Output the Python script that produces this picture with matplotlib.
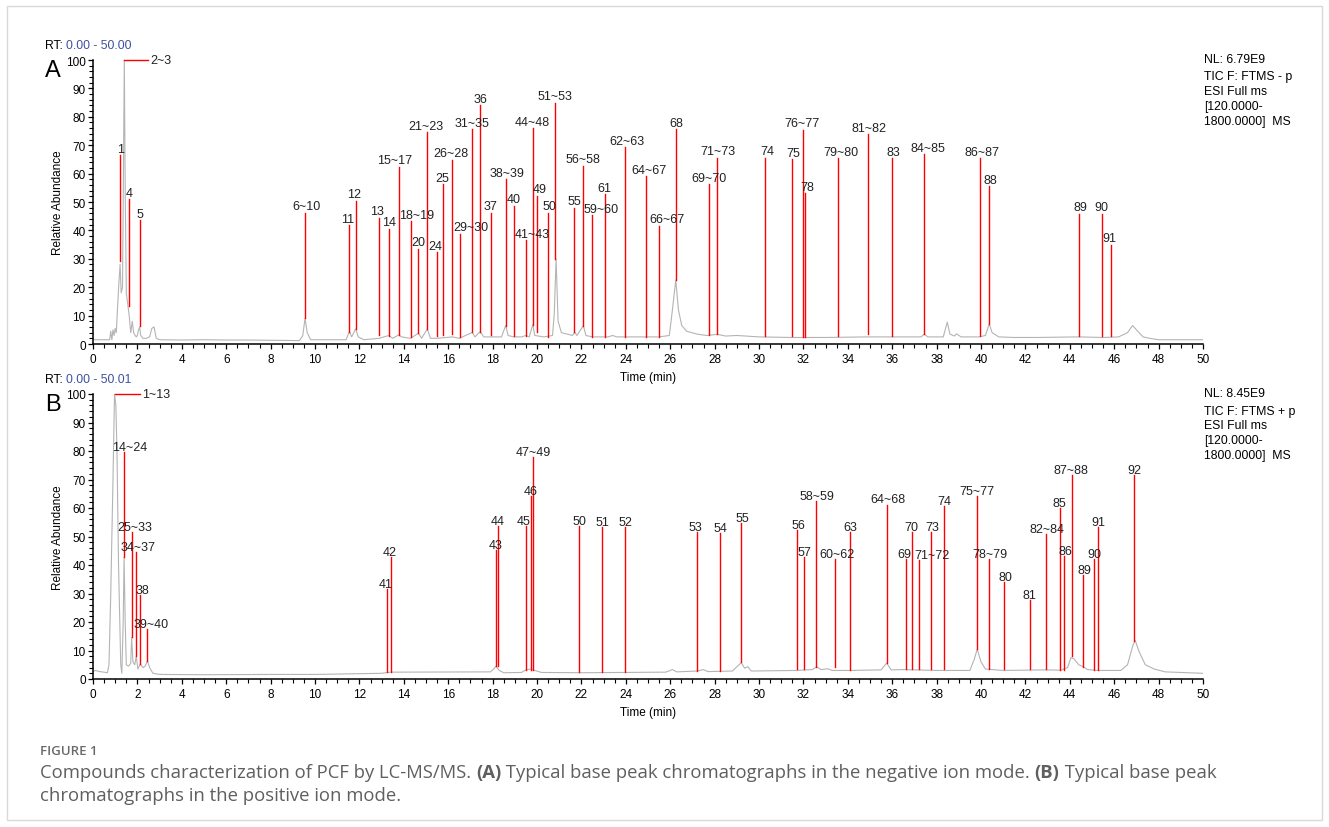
import matplotlib
matplotlib.use("Agg")
import matplotlib.pyplot as plt
from matplotlib.ticker import MultipleLocator
from matplotlib.patches import Rectangle

plt.rcParams['font.family'] = ['Liberation Sans', 'DejaVu Sans']

W, H = 1329, 828

# ---- chromatogram A (negative ion mode) ----
trace_a_t = [0.0, 0.75, 0.8, 0.85, 0.9, 0.95, 1.0, 1.05, 1.1, 1.17, 1.22, 1.27, 1.33, 1.37, 1.41,
             1.45, 1.5, 1.58, 1.63, 1.7, 1.77, 1.83, 1.9, 1.95, 2.0, 2.05, 2.1, 2.15, 2.25, 2.4,
             2.55, 2.65, 2.75, 2.85, 3.0, 4.0, 5.0, 6.0, 7.0, 8.0, 9.3, 9.45, 9.55, 9.65, 9.8,
             11.4, 11.55, 11.65, 11.83, 11.95, 12.2, 12.9, 13.1, 13.33, 13.5, 13.77, 13.9, 14.3,
             14.66, 14.8, 15.06, 15.2, 15.5, 16.2, 16.5, 17.09, 17.2, 17.45, 17.6, 18.4, 18.59,
             18.7, 18.95, 19.3, 19.5, 19.65, 19.81, 19.9, 20.3, 20.7, 20.78, 20.86, 20.95, 21.1,
             21.6, 21.7, 21.8, 22.09, 22.2, 22.5, 23.2, 23.4, 23.6, 25.5, 25.96, 26.1, 26.25,
             26.37, 26.52, 26.74, 27.2, 27.64, 28.12, 28.5, 29.0, 30.0, 31.5, 33.0, 34.9, 37.3,
             37.45, 37.6, 38.3, 38.48, 38.6, 38.8, 38.9, 39.1, 39.9, 40.2, 40.37, 40.5, 40.8,
             41.5, 42.5, 44.4, 45.5, 46.2, 46.6, 46.83, 47.0, 47.3, 47.6, 48.0, 49.0, 50.0]
trace_a_v = [1.5, 1.5, 4.5, 1.5, 5, 3, 5.5, 4, 12, 22, 28, 18, 20, 60, 100,
             55, 18, 13, 10, 4, 8, 4, 3, 2.5, 3, 5, 6, 3, 2, 2,
             2.5, 5.5, 6, 2, 1.5, 1.4, 1.5, 1.4, 1.4, 1.3, 1.2, 3, 9, 4, 1.5,
             1.5, 4.4, 2.5, 5.3, 2.5, 1.5, 2, 2.5, 3, 2, 3.2, 2.5, 2,
             3.8, 2, 5.3, 2, 2, 2.5, 2, 4.1, 2.5, 4.4, 2.5, 2.5, 6.5,
             3, 2.5, 2.5, 3, 2.5, 6.8, 3, 2.5, 3, 11, 30, 8, 4,
             3, 4.1, 3, 6.5, 3, 2.5, 2.5, 3, 2.5, 2.5, 3, 12, 22.6,
             12, 6.5, 4.5, 3.5, 3, 3.4, 2.8, 3, 2.5, 2.3, 2.3, 2.5, 2.5,
             3.5, 2.5, 2.5, 7.7, 3.5, 2.8, 3.6, 2.5, 2.5, 3, 7.1, 4, 2.5,
             2.3, 2.3, 2.5, 2.3, 2.5, 4, 6.5, 5, 2.5, 2, 1.5, 1.5, 1.5]

peaks_a_time = [1.22, 1.61, 2.10, 9.55, 11.55, 11.83, 12.90, 13.33, 13.77, 14.31, 14.66, 15.06,
                15.51, 15.78, 16.19, 16.55, 17.09, 17.45, 17.91, 18.59, 18.95, 19.49, 19.81,
                19.99, 20.48, 20.83, 21.68, 22.09, 22.49, 23.05, 23.98, 24.92, 25.51, 26.25,
                27.76, 28.12, 30.28, 31.50, 32.00, 32.09, 33.57, 34.92, 36.00, 37.45, 39.97,
                40.37, 44.43, 45.44, 45.84]
peaks_a_top = [66.5, 51.0, 43.6, 46.2, 41.8, 50.4, 44.4, 40.6, 62.4, 43.3, 33.6, 74.6,
               32.4, 56.2, 64.8, 38.9, 75.6, 84.0, 46.2, 58.0, 48.7, 36.6, 76.0,
               52.2, 46.2, 85.0, 47.9, 62.8, 45.3, 52.7, 69.3, 59.0, 41.6, 75.6,
               56.2, 65.6, 65.6, 65.0, 75.4, 53.0, 65.4, 73.9, 65.4, 66.8, 65.4,
               55.6, 45.9, 45.9, 35.0]
peaks_a_base = [29.4, 13.3, 6.5, 9.1, 4.4, 5.3, 3.2, 2.9, 3.2, 2.4, 3.8, 5.3,
                2.9, 3.2, 3.5, 2.4, 4.1, 4.4, 3.2, 6.5, 2.9, 2.9, 6.8,
                4.1, 2.6, 30.0, 4.1, 6.5, 2.6, 2.4, 2.6, 2.6, 2.6, 22.6,
                3.2, 3.4, 2.9, 2.9, 2.6, 2.6, 2.9, 3.5, 2.9, 3.5, 2.9,
                7.1, 2.9, 2.9, 2.9]
peaks_a_label = ['1', '4', '5', '6~10', '11', '12', '13', '14', '15~17', '18~19', '20', '21~23',
                 '24', '25', '26~28', '29~30', '31~35', '36', '37', '38~39', '40', '41~43', '44~48',
                 '49', '50', '51~53', '55', '56~58', '59~60', '61', '62~63', '64~67', '66~67', '68',
                 '69~70', '71~73', '74', '75', '76~77', '78', '79~80', '81~82', '83', '84~85', '86~87',
                 '88', '89', '90', '91']
# label shift (pixels) relative to its line
shift_a = [0, 0, 0, 1, -1.7, -1.3, -2, 0, -3.7, 6, 0, -1.3,
           -2, -1.3, -1.3, 10.7, 0, 0, 0, 1, 0, 7, -0.7,
           2.7, 1.7, 0, 0, 0, 9.3, 0, 2, 3, 7.3, 1,
           0, 1, 2.3, 1.3, -1, 1.7, 2.3, 0.7, 1.3, 3.3, 1.3,
           0.7, 1, 0, -1.3]
top_a_time, top_a_end, top_a_label = 1.41, 2.49, '2~3'

# ---- chromatogram B (positive ion mode) ----
trace_b_t = [0.0, 0.1, 0.3, 0.5, 0.65, 0.72, 0.8, 0.9, 0.97, 1.03, 1.08, 1.15, 1.25, 1.3, 1.36,
             1.4, 1.45, 1.5, 1.6, 1.7, 1.74, 1.8, 1.88, 1.95, 2.02, 2.13, 2.25, 2.35, 2.45, 2.55,
             2.7, 3.0, 5.0, 8.0, 10.0, 13.0, 13.4, 17.9, 18.05, 18.15, 18.3, 18.5, 19.3, 19.5,
             19.7, 19.9, 20.2, 22.0, 25.8, 26.1, 26.3, 27.2, 27.5, 27.7, 28.8, 29.1, 29.2, 29.35,
             29.5, 29.65, 31.7, 32.4, 32.6, 32.8, 33.1, 33.3, 34.1, 35.5, 35.75, 35.95, 36.5,
             37.0, 38.0, 39.5, 39.7, 39.83, 40.0, 40.2, 41.0, 42.9, 43.6, 43.9, 44.05, 44.2,
             44.4, 44.6, 44.8, 45.3, 46.3, 46.6, 46.85, 46.95, 47.1, 47.4, 47.8, 48.3, 50.0]
trace_b_v = [2.5, 3, 2.6, 2.4, 2.2, 5, 30, 70, 100, 96, 80, 40, 5, 2, 20,
             42.7, 20, 5, 4.5, 5.5, 14.6, 6, 5, 8, 3.5, 5.3, 4, 4.5, 6.4, 4,
             2, 1.6, 1.5, 1.6, 1.6, 2, 2.4, 2.5, 3.5, 4.5, 3, 2.2, 2.3, 3.2,
             3.5, 3, 2.3, 2.2, 2.4, 3.3, 2.5, 2.8, 3.3, 2.6, 2.8, 5, 5.8, 3.8,
             4.3, 2.8, 3, 3.3, 4.3, 3.3, 3.6, 3, 3, 3.2, 5.6, 3.2, 3.3,
             3.2, 3, 3, 7, 10.5, 6, 3.5, 3, 3.2, 3.1, 4, 7.5, 7,
             5, 4.3, 3.3, 3, 3, 5, 12, 13.5, 10, 5, 3.5, 2.5, 2]

peaks_b_time = [1.40, 1.74, 1.95, 2.13, 2.45, 13.23, 13.41, 18.14, 18.23, 19.52, 19.71, 19.83,
                21.90, 22.94, 23.98, 27.22, 28.23, 29.20, 31.73, 32.04, 32.58, 33.44, 34.11,
                35.75, 36.61, 36.91, 37.22, 37.76, 38.32, 39.83, 40.35, 41.05, 42.22, 42.94,
                43.57, 43.75, 44.11, 44.61, 45.10, 45.28, 46.91]
peaks_b_top = [79.5, 51.5, 44.7, 29.5, 17.5, 31.6, 42.9, 45.3, 53.6, 53.6, 64.3, 77.8,
               53.6, 53.3, 53.3, 51.5, 51.2, 54.7, 52.3, 42.7, 62.6, 42.1, 51.7,
               61.2, 42.1, 51.7, 41.8, 51.5, 60.6, 64.3, 42.1, 33.9, 27.7, 50.9,
               59.9, 43.0, 71.6, 36.5, 42.1, 53.2, 71.6]
peaks_b_base = [42.7, 14.6, 8.0, 5.3, 6.4, 2.6, 2.6, 4.4, 4.4, 3.3, 3.3, 3.3,
                2.3, 2.3, 2.3, 2.9, 2.9, 5.8, 3.5, 3.5, 4.3, 4.3, 3.3,
                5.6, 3.5, 3.5, 3.5, 3.5, 3.5, 10.5, 3.5, 3.5, 3.5, 3.5,
                3.3, 3.3, 8.0, 4.3, 3.3, 3.3, 13.5]
peaks_b_label = ['14~24', '25~33', '34~37', '38', '39~40', '41', '42', '43', '44', '45', '46', '47~49',
                 '50', '51', '52', '53', '54', '55', '56', '57', '58~59', '60~62', '63',
                 '64~68', '69', '70', '71~72', '73', '74', '75~77', '78~79', '80', '81', '82~84',
                 '85', '86', '87~88', '89', '90', '91', '92']
shift_b = [6, 3.3, 2, 2.3, 3.3, -0.7, -1.3, 0, 0.3, -2.7, 0, 0.3,
           0.7, 0, 0, -1.7, 1, 1, 1, -0.3, 1, 1.3, 0.3,
           1, -1.3, -1, 13, 1, 0.7, -0.7, 0.7, 0.7, -1, 0.3,
           -0.7, 0.7, -1.3, 1, -0.3, 0, 0]
top_b_time, top_b_end, top_b_label = 0.99, 2.12, '1~13'

info_a = ['NL: 6.79E9', 'TIC F: FTMS - p', 'ESI Full ms', '[120.0000-', '1800.0000]  MS']
info_b = ['NL: 8.45E9', 'TIC F: FTMS + p', 'ESI Full ms', '[120.0000-', '1800.0000]  MS']


def px(x, y):
    return x / W, 1 - y / H


fig = plt.figure(figsize=(W / 100, H / 100), dpi=100)
fig.patches.append(Rectangle((7 / W, 7 / H), 1315 / W, 814 / H, transform=fig.transFigure,
                             fill=False, edgecolor='#d9d9d9', lw=1))


def panel(y0, y100, tt, tv, ptime, ptop, pbase, plab, pshift, top_t, top_end, top_lab,
          letter, rt, info, info_y, lab_off):
    ax = fig.add_axes([93 / W, 1 - y0 / H, 1110 / W, (y0 - y100) / H])
    ax.plot(tt, tv, color='#b4b4b4', lw=0.8)
    for t, top, base, lab, s in zip(ptime, ptop, pbase, plab, pshift):
        ax.plot([t, t], [base, top], color='red', lw=1.0, clip_on=False)
        ax.annotate(lab, (t, top), xytext=(s * 0.72, lab_off), textcoords='offset points',
                    ha='center', va='baseline', fontsize=9, color='#222222')
    ax.plot([top_t, top_end], [100, 100], color='red', lw=1.0, clip_on=False)
    ax.annotate(top_lab, (top_end, 100), xytext=(1.5, 0), textcoords='offset points',
                ha='left', va='center', fontsize=9, color='#222222')
    ax.set_xlim(0, 50)
    ax.set_ylim(0, 100)
    for s in ['top', 'right']:
        ax.spines[s].set_visible(False)
    ax.spines['left'].set_linewidth(1.1)
    ax.spines['bottom'].set_linewidth(1.1)
    ax.xaxis.set_major_locator(MultipleLocator(2))
    ax.xaxis.set_minor_locator(MultipleLocator(0.5))
    ax.yaxis.set_major_locator(MultipleLocator(10))
    ax.yaxis.set_minor_locator(MultipleLocator(2))
    ax.tick_params(which='major', length=3.8, width=0.9, labelsize=8.5, pad=1.5)
    ax.tick_params(which='minor', length=2.6, width=0.8)
    ax.tick_params(axis='x', pad=2.5)

    fig.text(*px(58, (y0 + y100) / 2), 'Relative Abundance', rotation=90,
             ha='center', va='center', fontsize=8.5)
    fig.text(*px(648, y0 + 33), 'Time (min)', ha='center', va='center', fontsize=8.5)
    fig.text(*px(45, y100 + 10), letter, ha='left', va='center', fontsize=17)
    rt1 = fig.text(*px(45, y100 - 15), 'RT: ', ha='left', va='center', fontsize=8.8)
    ax.annotate(rt, xy=(1, 0), xycoords=rt1, va='bottom', ha='left', fontsize=8.8,
                color='#3f4f9f', annotation_clip=False)
    for line, yy in zip(info, info_y):
        fig.text(*px(1204, yy), line, ha='left', va='center', fontsize=8.8)
    return ax


ax_a = panel(345, 61, trace_a_t, trace_a_v, peaks_a_time, peaks_a_top, peaks_a_base,
             peaks_a_label, shift_a, top_a_time, top_a_end, top_a_label,
             'A', '0.00 - 50.00', info_a, [60, 77, 92, 107, 122], 2.5)
ax_b = panel(680, 395, trace_b_t, trace_b_v, peaks_b_time, peaks_b_top, peaks_b_base,
             peaks_b_label, shift_b, top_b_time, top_b_end, top_b_label,
             'B', '0.00 - 50.01', info_b, [394, 412, 426, 441, 456], 1.5)

# caption
fig.text(*px(40, 752), 'FIGURE 1', ha='left', va='center', fontsize=9.5,
         family='Open Sans', weight='semibold', color='#6a6a6a')
pieces = [('Compounds characterization of PCF by LC-MS/MS. ', 'normal'), ('(A)', 'bold'),
          (' Typical base peak chromatographs in the negative ion mode. ', 'normal'),
          ('(B)', 'bold'), (' Typical base peak', 'normal')]
prev = None
for txt, wt in pieces:
    if prev is None:
        prev = fig.text(*px(40, 773), txt, ha='left', va='center', fontsize=13.3,
                        family='Open Sans', weight=wt, color='#5f5f5f')
    else:
        prev = ax_b.annotate(txt, xy=(1, 0), xycoords=prev, va='bottom', ha='left',
                             fontsize=13.3, family='Open Sans', weight=wt, color='#5f5f5f',
                             annotation_clip=False)
fig.text(*px(40, 796), 'chromatographs in the positive ion mode.', ha='left', va='center',
         fontsize=13.3, family='Open Sans', color='#5f5f5f')

fig.savefig('out.png', dpi=100)
